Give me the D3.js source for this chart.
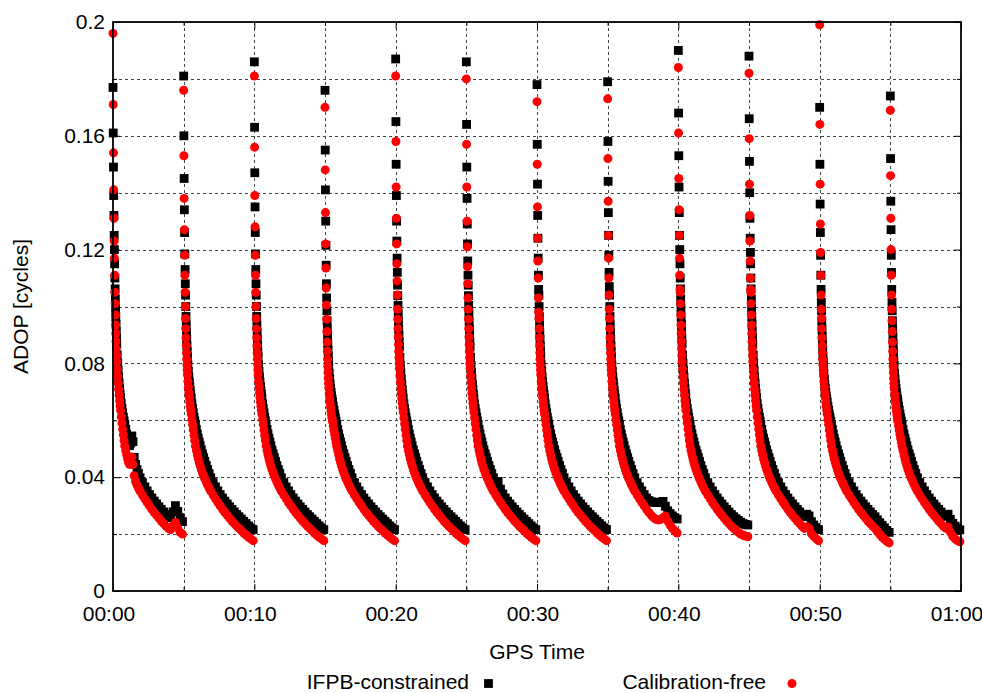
<!DOCTYPE html>
<html>
<head>
<meta charset="utf-8">
<script src="https://cdn.jsdelivr.net/npm/d3@7"></script>
<style>
  body { margin: 0; background: #fff; }
  text { font-family: "Liberation Sans", Arial, Helvetica, sans-serif; fill: #000; }
</style>
</head>
<body>
<svg id="chart" width="982" height="693"></svg>
<script>
// epoch offsets (seconds) inside each 5-minute re-initialisation window
const offsets = [0,1,2,3,4,5,6,7,8,9,10,11,12,13,14,15,16,18,20,22,24,26,28,30,32,35,38,41,44,47,50,
  54,58,62,66,70,75,80,85,90,96,102,108,115,125,135,145,155,165,175,185,195,205,215,225,235,245,255,265,275,285,295];
const segStarts = [0,300,600,900,1200,1500,1800,2100,2400,2700,3000,3300];

// ADOP, units of 1e-4 cycles, one row per window
const ifpbConstrained = [
  [1770,1610,1490,1390,1320,1250,1200,1150,1100,1062,1027,994,964,937,912,889,868,830,800,775,752,731,712,695,680,660,642,626,611,598,586,568,552,537,524,511,520,545,525,470,445,427,413,398,381,366,352,339,327,316,306,296,287,278,269,261,258,278,300,280,258,244],
  [1810,1600,1450,1340,1260,1185,1130,1080,1040,1000,965,935,908,884,862,842,824,795,772,752,735,719,704,691,678,658,641,626,611,598,586,568,552,537,524,511,496,482,469,456,441,427,413,398,381,366,352,339,327,316,306,296,287,278,269,261,253,245,237,229,222,216],
  [1860,1630,1470,1350,1260,1185,1130,1080,1040,1000,965,935,908,884,862,842,824,795,772,752,735,719,704,691,678,658,641,626,611,598,586,568,552,537,524,511,496,482,469,456,441,427,413,398,381,366,352,339,327,316,306,296,287,278,269,261,253,245,237,229,222,216],
  [1760,1550,1410,1300,1215,1145,1080,1030,985,950,920,893,868,846,826,808,792,765,745,727,712,698,686,675,665,650,636,622,609,597,586,568,552,537,524,511,496,482,469,456,441,427,413,398,381,366,352,339,327,316,306,296,287,278,269,261,253,245,237,229,222,216],
  [1870,1650,1500,1390,1300,1230,1170,1120,1075,1038,1004,974,946,921,898,877,858,822,793,768,746,726,708,692,678,658,641,626,611,598,586,568,552,537,524,511,496,482,469,456,441,427,413,398,381,366,352,339,327,316,306,296,287,278,269,261,253,245,237,229,222,216],
  [1860,1640,1490,1380,1290,1220,1160,1110,1075,1038,1004,974,946,921,898,877,858,822,793,768,746,726,708,692,678,658,641,626,611,598,586,568,552,537,524,511,496,482,469,456,441,427,413,398,381,385,358,341,327,316,306,296,287,278,269,261,253,245,237,229,222,216],
  [1780,1570,1430,1320,1240,1170,1110,1060,1040,1000,965,935,908,884,862,842,824,795,772,752,735,719,704,691,678,658,641,626,611,598,586,568,552,537,524,511,496,482,469,456,441,427,413,398,381,366,352,339,327,316,306,296,287,278,269,261,253,245,237,229,222,216],
  [1790,1580,1440,1330,1250,1180,1120,1070,1040,1000,965,935,908,884,862,842,824,795,772,752,735,719,704,691,678,658,641,626,611,598,586,568,552,537,524,511,496,482,469,456,441,427,413,398,381,366,352,339,327,318,314,312,311,311,312,315,298,282,272,264,258,253],
  [1900,1680,1530,1420,1330,1250,1200,1150,1100,1062,1027,994,964,937,912,889,868,830,800,775,752,731,712,695,680,660,642,626,611,598,586,568,552,537,524,511,496,482,469,456,441,427,413,398,381,366,352,339,327,316,306,296,287,278,269,261,254,248,242,237,234,232],
  [1880,1660,1510,1400,1310,1240,1190,1150,1100,1062,1027,994,964,937,912,889,868,830,800,775,752,731,712,695,680,660,642,626,611,598,586,568,552,537,524,511,496,482,469,456,441,427,413,398,381,366,352,339,327,316,306,296,287,278,269,261,270,264,244,232,223,216],
  [1700,1500,1360,1260,1180,1110,1060,1015,985,950,920,893,868,846,826,808,792,765,745,727,712,698,686,675,665,650,636,622,609,597,586,568,552,537,524,511,496,482,469,456,441,427,413,398,381,366,352,339,327,316,306,296,287,278,269,261,250,240,231,222,213,206],
  [1740,1520,1370,1270,1180,1120,1060,1015,985,950,920,893,868,846,826,808,792,765,745,727,712,698,686,675,665,650,636,622,609,597,586,568,552,537,524,511,496,482,469,456,441,427,413,398,381,366,352,339,327,316,306,296,287,278,269,262,270,252,238,228,221,215]
];
const calibrationFree = [
  [1960,1710,1540,1410,1310,1230,1170,1110,1050,1010,970,935,905,877,851,828,806,780,755,731,709,688,669,651,635,612,590,569,549,529,510,494,479,465,452,445,450,470,445,405,385,372,362,351,337,324,311,299,287,276,266,256,246,237,228,220,216,230,241,222,206,200],
  [1760,1530,1380,1270,1180,1110,1050,1000,958,922,890,862,837,815,795,777,760,737,716,697,680,664,649,635,622,603,585,566,547,529,510,494,479,465,452,440,427,415,404,394,383,372,362,351,337,324,311,299,287,276,266,256,246,237,228,220,212,204,197,190,183,177],
  [1810,1560,1390,1280,1180,1110,1050,1000,958,922,890,862,837,815,795,777,760,737,716,697,680,664,649,635,622,603,585,566,547,529,510,494,479,465,452,440,427,415,404,394,383,372,362,351,337,324,311,299,287,276,266,256,246,237,228,220,212,204,197,190,183,177],
  [1700,1480,1330,1220,1135,1065,1005,955,912,875,843,815,790,768,748,730,714,694,676,660,645,632,619,607,596,580,565,550,536,522,508,494,479,465,452,440,427,415,404,394,383,372,362,351,337,324,311,299,287,276,266,256,246,237,228,220,212,204,197,190,183,177],
  [1810,1580,1420,1310,1220,1150,1090,1040,990,955,922,893,866,842,820,800,782,757,735,714,695,677,660,644,629,608,588,568,548,529,510,494,479,465,452,440,427,415,404,394,383,372,362,351,337,324,311,299,287,276,266,256,246,237,228,220,212,204,197,190,183,177],
  [1800,1570,1420,1300,1210,1140,1080,1030,990,955,922,893,866,842,820,800,782,757,735,714,695,677,660,644,629,608,588,568,548,529,510,494,479,465,452,440,427,415,404,394,383,372,362,351,337,324,311,299,287,276,266,256,246,237,228,220,212,204,197,190,183,177],
  [1720,1500,1350,1240,1160,1100,1030,980,958,922,890,862,837,815,795,777,760,737,716,697,680,664,649,635,622,603,585,566,547,529,510,494,479,465,452,440,427,415,404,394,383,372,362,351,337,324,311,299,287,276,266,256,246,237,228,220,212,204,197,190,183,177],
  [1730,1520,1370,1250,1170,1100,1040,990,958,922,890,862,837,815,795,777,760,737,716,697,680,664,649,635,622,603,585,566,547,529,510,494,479,465,452,440,427,415,404,394,383,372,362,351,337,324,311,299,287,276,266,258,252,250,252,258,264,246,232,220,211,204],
  [1840,1610,1450,1340,1250,1170,1110,1060,1050,1010,970,935,905,877,851,828,806,780,755,731,709,688,669,651,635,612,590,569,549,529,510,494,479,465,452,440,427,415,404,394,383,372,362,351,337,324,311,299,287,276,266,256,246,237,228,220,213,206,200,196,193,191],
  [1820,1590,1430,1320,1230,1160,1100,1060,1050,1010,970,935,905,877,851,828,806,780,755,731,709,688,669,651,635,612,590,569,549,529,510,494,479,465,452,440,427,415,404,394,383,372,362,351,337,324,311,299,287,276,266,256,246,237,228,220,226,220,202,192,184,177],
  [1990,1640,1430,1290,1190,1110,1040,990,958,922,890,862,837,815,795,777,760,737,716,697,680,664,649,635,622,603,585,566,547,529,510,494,479,465,452,440,427,415,404,394,383,372,362,351,337,324,311,299,287,276,266,256,246,237,228,220,209,199,190,182,175,169],
  [1690,1460,1310,1200,1110,1040,990,950,912,875,843,815,790,768,748,730,714,694,676,660,645,632,619,607,596,580,565,550,536,522,508,494,479,465,452,440,427,415,404,394,383,372,362,351,337,324,311,299,287,276,266,256,246,237,228,221,225,207,192,183,177,173]
];

const yTicks = [0, 0.04, 0.08, 0.12, 0.16, 0.2];
const yMinor = [0.02, 0.06, 0.1, 0.14, 0.18];
const xTicks = [0, 600, 1200, 1800, 2400, 3000, 3600];
const xMinor = [300, 900, 1500, 2100, 2700, 3300];
const yGrid = [0.02, 0.04, 0.06, 0.08, 0.1, 0.12, 0.14, 0.16, 0.18];
const xGrid = [300, 600, 900, 1200, 1500, 1800, 2100, 2400, 2700, 3000, 3300];

const svg = d3.select('#chart');
const pL = 113, pR = 961, pT = 22, pB = 591;

const x = d3.scaleLinear().domain([0, 3600]).range([pL, pR]);
const y = d3.scaleLinear().domain([0, 0.2]).range([pB, pT]);

const hhmm = s => {
  let m = Math.round(s / 60);
  return String(Math.floor(m / 60)).padStart(2, '0') + ':' + String(m % 60).padStart(2, '0');
};
const yFmt = d => d === 0 ? '0' : String(+d.toFixed(2));

// grid
let grid = svg.append('g')
  .attr('stroke', '#444')
  .attr('stroke-width', 1)
  .attr('stroke-dasharray', '3,3');
grid.selectAll('line.h').data(yGrid).join('line')
  .attr('class', 'h')
  .attr('x1', pL).attr('x2', pR)
  .attr('y1', d => Math.round(y(d)) + 0.5).attr('y2', d => Math.round(y(d)) + 0.5);
grid.selectAll('line.v').data(xGrid).join('line')
  .attr('class', 'v')
  .attr('y1', pT).attr('y2', pB)
  .attr('x1', d => Math.round(x(d)) + 0.5).attr('x2', d => Math.round(x(d)) + 0.5);

// axes: ticks point inward, mirrored on top/right
const styleAxis = g => {
  g.select('.domain').remove();
  g.selectAll('.tick line').attr('stroke', '#000').attr('stroke-width', 1);
  g.selectAll('.tick text').attr('font-size', 21).attr('fill', '#000')
    .style('font-family', '"Liberation Sans", Arial, sans-serif');
};

svg.append('g').attr('transform', `translate(0,${pB})`)
  .call(d3.axisBottom(x).tickValues(xTicks).tickFormat(hhmm).tickSizeInner(-7).tickSizeOuter(0).tickPadding(15))
  .call(styleAxis)
  .call(g => g.selectAll('.tick text').attr('dx', -4.5));
svg.append('g').attr('transform', `translate(0,${pB})`)
  .call(d3.axisBottom(x).tickValues(xMinor).tickFormat('').tickSizeInner(-4).tickSizeOuter(0))
  .call(styleAxis);
svg.append('g').attr('transform', `translate(0,${pT})`)
  .call(d3.axisTop(x).tickValues(xTicks).tickFormat('').tickSizeInner(-7).tickSizeOuter(0))
  .call(styleAxis);
svg.append('g').attr('transform', `translate(0,${pT})`)
  .call(d3.axisTop(x).tickValues(xMinor).tickFormat('').tickSizeInner(-4).tickSizeOuter(0))
  .call(styleAxis);

svg.append('g').attr('transform', `translate(${pL},0)`)
  .call(d3.axisLeft(y).tickValues(yTicks).tickFormat(yFmt).tickSizeInner(-7).tickSizeOuter(0).tickPadding(8))
  .call(styleAxis);
svg.append('g').attr('transform', `translate(${pL},0)`)
  .call(d3.axisLeft(y).tickValues(yMinor).tickFormat('').tickSizeInner(-4).tickSizeOuter(0))
  .call(styleAxis);
svg.append('g').attr('transform', `translate(${pR},0)`)
  .call(d3.axisRight(y).tickValues(yTicks).tickFormat('').tickSizeInner(-7).tickSizeOuter(0))
  .call(styleAxis);
svg.append('g').attr('transform', `translate(${pR},0)`)
  .call(d3.axisRight(y).tickValues(yMinor).tickFormat('').tickSizeInner(-4).tickSizeOuter(0))
  .call(styleAxis);

// points
const toPoints = rows => rows.flatMap((row, s) =>
  row.map((v, i) => ({ t: segStarts[s] + offsets[i], v: v * 1e-4 })));

const sq = 8.8;
svg.append('g').selectAll('rect').data(toPoints(ifpbConstrained)).join('rect')
  .attr('x', d => x(d.t) - sq / 2)
  .attr('y', d => y(d.v) - sq / 2)
  .attr('width', sq).attr('height', sq)
  .attr('fill', '#000');

svg.append('g').selectAll('circle').data(toPoints(calibrationFree)).join('circle')
  .attr('cx', d => x(d.t))
  .attr('cy', d => y(d.v))
  .attr('r', 4.5)
  .attr('fill', '#ff0000');

// frame
svg.append('rect')
  .attr('x', pL).attr('y', pT)
  .attr('width', pR - pL).attr('height', pB - pT)
  .attr('fill', 'none').attr('stroke', '#000').attr('stroke-width', 1.8);

// labels
svg.append('text')
  .attr('transform', `translate(28,${(pT + pB) / 2}) rotate(-90)`)
  .attr('text-anchor', 'middle')
  .attr('font-size', 21)
  .text('ADOP [cycles]');

svg.append('text')
  .attr('x', (pL + pR) / 2).attr('y', 659)
  .attr('text-anchor', 'middle')
  .attr('font-size', 21)
  .text('GPS Time');

// legend
svg.append('text').attr('x', 469).attr('y', 689).attr('text-anchor', 'end')
  .attr('font-size', 21).text('IFPB-constrained');
svg.append('rect').attr('x', 488.5 - sq / 2).attr('y', 683.5 - sq / 2)
  .attr('width', sq).attr('height', sq).attr('fill', '#000');
svg.append('text').attr('x', 766).attr('y', 689).attr('text-anchor', 'end')
  .attr('font-size', 21).text('Calibration-free');
svg.append('circle').attr('cx', 792).attr('cy', 683.5).attr('r', 4.5).attr('fill', '#ff0000');
</script>
</body>
</html>
